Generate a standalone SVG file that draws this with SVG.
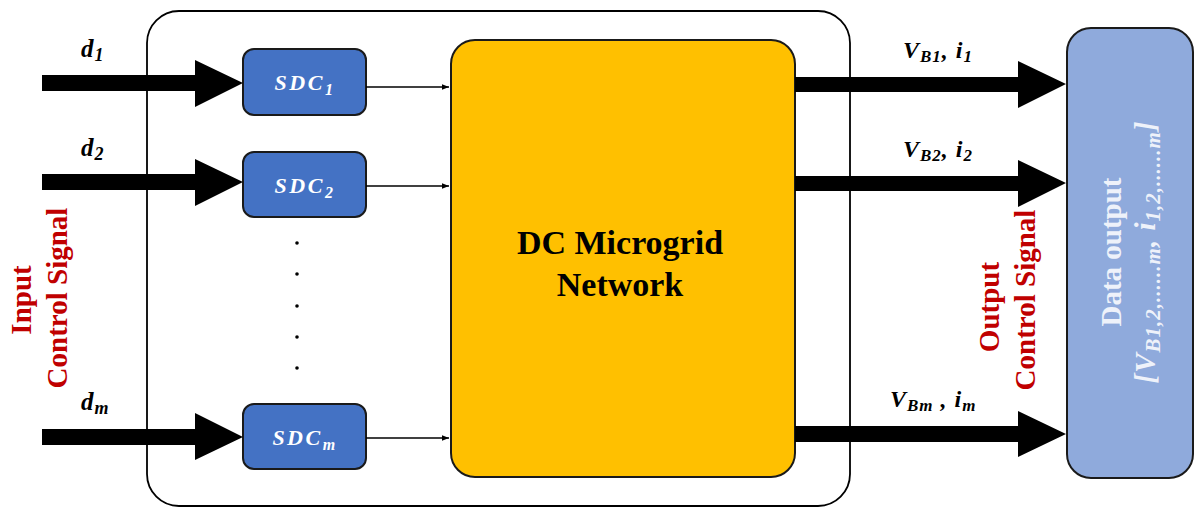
<svg xmlns="http://www.w3.org/2000/svg" width="1195" height="507" viewBox="0 0 1195 507">
<defs>
<style>
.math{font-family:"Liberation Serif","DejaVu Serif",serif;font-weight:bold;font-style:italic;fill:#000;letter-spacing:1px;}
.sdc{font-family:"Liberation Serif","DejaVu Serif",serif;font-style:italic;font-weight:bold;fill:#fff;font-size:22px;letter-spacing:2.5px;}
.red{font-family:"Liberation Serif","DejaVu Serif",serif;font-weight:bold;fill:#C00000;font-size:29px;}
.wht{font-family:"Liberation Serif","DejaVu Serif",serif;font-weight:bold;fill:#EEF2FA;font-size:29px;}
.box{fill:#4472C4;stroke:#1a1a1a;stroke-width:2;}
.thin{stroke:#000;stroke-width:1.4;fill:none;marker-end:url(#ah);}
.big{fill:#000;}
</style>
<marker id="ah" viewBox="0 0 10 10" refX="10" refY="5" markerWidth="7" markerHeight="7" markerUnits="userSpaceOnUse" orient="auto">
<path d="M0,1 L10,5 L0,9 Z" fill="#000"/>
</marker>
</defs>
<rect width="1195" height="507" fill="#fff"/>
<g id="frame">
<rect x="147" y="11" width="703" height="495" rx="32" ry="32" fill="none" stroke="#000" stroke-width="1.8"/>
</g>
<g id="dcgrid">
<rect x="451" y="40" width="344" height="437" rx="24" ry="24" fill="#FFC000" stroke="#1a1a1a" stroke-width="2"/>
<text x="620" y="254" text-anchor="middle" font-family="Liberation Serif, serif" font-weight="bold" font-size="34">DC Microgrid</text>
<text x="620" y="296" text-anchor="middle" font-family="Liberation Serif, serif" font-weight="bold" font-size="34">Network</text>
</g>
<g id="sdc1">
<rect class="box" x="243" y="49" width="123" height="66" rx="11"/>
<text class="sdc" x="305" y="90" text-anchor="middle">SDC<tspan font-size="16" dy="5">1</tspan></text>
</g>
<g id="sdc2">
<rect class="box" x="243" y="152" width="123" height="65" rx="11"/>
<text class="sdc" x="305" y="193" text-anchor="middle">SDC<tspan font-size="16" dy="5">2</tspan></text>
</g>
<g id="sdcm">
<rect class="box" x="243" y="404" width="123" height="65" rx="11"/>
<text class="sdc" x="305" y="445" text-anchor="middle">SDC<tspan font-size="16" dy="5">m</tspan></text>
</g>
<g id="dots" fill="#000">
<circle cx="297" cy="243" r="1.8"/>
<circle cx="297" cy="274" r="1.8"/>
<circle cx="297" cy="306" r="1.8"/>
<circle cx="297" cy="337" r="1.8"/>
<circle cx="297" cy="368" r="1.8"/>
</g>
<g id="dataout">
<rect x="1067" y="28" width="126" height="450" rx="24" ry="24" fill="#8FAADC" stroke="#1a1a1a" stroke-width="2"/>
<text class="wht" transform="translate(1121,252) rotate(-90)" text-anchor="middle">Data output</text>
<text class="wht" transform="translate(1155,252) rotate(-90)" text-anchor="middle" font-style="italic" font-size="31" letter-spacing="1">[<tspan>V</tspan><tspan font-size="21" dy="5">B1,2,......m</tspan><tspan dy="-5">, i</tspan><tspan font-size="21" dy="5">1,2,......m</tspan><tspan dy="-5">]</tspan></text>
</g>
<g id="connectors">
<polygon class="big" points="42,75 195,75 195,60 243,83 195,107 195,91 42,91"/>
<polygon class="big" points="42,174 195,174 195,159 243,182 195,206 195,190 42,190"/>
<polygon class="big" points="42,429 195,429 195,413 243,437 195,460 195,445 42,445"/>
<line class="thin" x1="366" y1="87" x2="449" y2="87"/>
<line class="thin" x1="366" y1="186" x2="449" y2="186"/>
<line class="thin" x1="366" y1="438" x2="449" y2="438"/>
<polygon class="big" points="795,77 1018,77 1018,61 1066,84 1018,108 1018,92 795,92"/>
<polygon class="big" points="795,176 1018,176 1018,160 1066,183 1018,207 1018,191 795,191"/>
<polygon class="big" points="795,426 1018,426 1018,411 1066,434 1018,457 1018,442 795,442"/>
</g>
<g id="labels">
<text class="math" x="81" y="57" font-size="25">d<tspan font-size="18" dy="4">1</tspan></text>
<text class="math" x="81" y="156" font-size="25">d<tspan font-size="18" dy="4">2</tspan></text>
<text class="math" x="81" y="410" font-size="25">d<tspan font-size="18" dy="4">m</tspan></text>
<text class="math" x="903" y="58" font-size="24">V<tspan font-size="17" dy="4">B1</tspan><tspan dy="-4">, i</tspan><tspan font-size="17" dy="4">1</tspan></text>
<text class="math" x="903" y="157" font-size="24">V<tspan font-size="17" dy="4">B2</tspan><tspan dy="-4">, i</tspan><tspan font-size="17" dy="4">2</tspan></text>
<text class="math" x="890" y="407" font-size="24">V<tspan font-size="17" dy="4">Bm</tspan><tspan dy="-4"> , i</tspan><tspan font-size="17" dy="4">m</tspan></text>
<text class="red" transform="translate(31,300) rotate(-90)" text-anchor="middle">Input</text>
<text class="red" transform="translate(67,298) rotate(-90)" text-anchor="middle">Control Signal</text>
<text class="red" transform="translate(999,307) rotate(-90)" text-anchor="middle">Output</text>
<text class="red" transform="translate(1035,300) rotate(-90)" text-anchor="middle">Control Signal</text>
</g>
</svg>
